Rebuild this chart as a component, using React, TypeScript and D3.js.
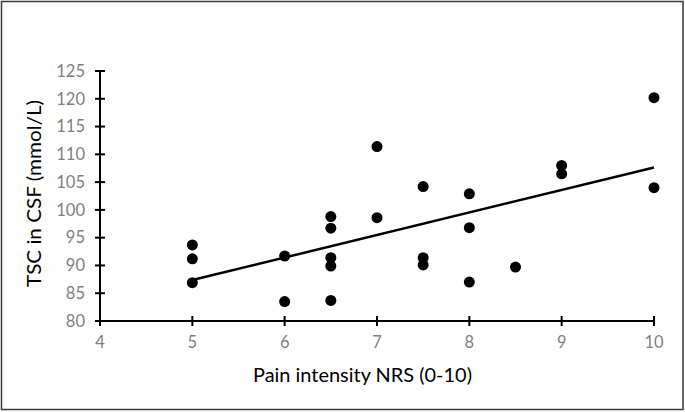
import React from "react";
import * as d3 from "d3";

const painNRS = [5, 5, 5, 6, 6, 6.5, 6.5, 6.5, 6.5, 6.5, 7, 7, 7.5, 7.5, 7.5, 8, 8, 8, 8.5, 9, 9, 10, 10];
const tscCSF = [93.7, 91.2, 86.9, 91.7, 83.5, 98.8, 96.7, 91.4, 89.9, 83.7, 111.4, 98.6, 104.2, 91.4, 90.1, 102.9, 96.8, 87.0, 89.7, 108.0, 106.5, 120.2, 104.0];
const xTicks = [4, 5, 6, 7, 8, 9, 10];
const yTicks = [80, 85, 90, 95, 100, 105, 110, 115, 120, 125];

const W = 685;
const H = 412;
const FONT = "Lato, 'Open Sans', sans-serif";

export default function App() {
  const x = d3.scaleLinear().domain([4, 10]).range([100, 654]);
  const y = d3.scaleLinear().domain([80, 125]).range([321, 71]);

  const mx = d3.mean(painNRS)!;
  const my = d3.mean(tscCSF)!;
  let sxy = 0, sxx = 0;
  painNRS.forEach((v, i) => {
    sxy += (v - mx) * (tscCSF[i] - my);
    sxx += (v - mx) * (v - mx);
  });
  const slope = sxy / sxx;
  const icpt = my - slope * mx;
  const x0 = d3.min(painNRS)!;
  const x1 = d3.max(painNRS)!;
  const line = d3.line<number>().x((d) => x(d)).y((d) => y(icpt + slope * d));

  return (
    <div style={{ position: "absolute", left: 0, top: 0 }}>
      <svg width={W} height={H} style={{ display: "block" }}>
        <rect x={0} y={0} width={W} height={H} fill="#fff" />
        <rect x={1.5} y={1.5} width={681.5} height={408} fill="none" stroke="#3a3a3a" strokeWidth={1.5} />
        {yTicks.map((t) => (
          <g key={"y" + t}>
            <line x1={x(4) - 5} x2={x(4) + 5} y1={y(t)} y2={y(t)} stroke="#000" strokeWidth={2} />
            <text x={85} y={y(t)} dy="0.35em" textAnchor="end" fontFamily={FONT} fontSize={16.5} fill="#7f7f7f">
              {t}
            </text>
          </g>
        ))}
        {xTicks.map((t) => (
          <g key={"x" + t}>
            <line x1={x(t)} x2={x(t)} y1={y(80) - 5} y2={y(80) + 5} stroke="#000" strokeWidth={2} />
            <text x={x(t)} y={348} textAnchor="middle" fontFamily={FONT} fontSize={16.5} fill="#7f7f7f">
              {t}
            </text>
          </g>
        ))}
        {/* axes */}
        <line x1={x(4)} x2={x(10)} y1={y(80)} y2={y(80)} stroke="#000" strokeWidth={2} />
        <line x1={x(4)} x2={x(4)} y1={y(80)} y2={y(125)} stroke="#000" strokeWidth={2} />
        <path d={line([x0, x1]) || ""} fill="none" stroke="#000" strokeWidth={2.5} />
        {painNRS.map((v, i) => (
          <circle key={i} cx={x(v)} cy={y(tscCSF[i])} r={5.5} fill="#000" />
        ))}
        <text x={362.5} y={382} textAnchor="middle" fontFamily={FONT} fontSize={19.5} fill="#000" textLength={219} lengthAdjust="spacingAndGlyphs">
          Pain intensity NRS (0-10)
        </text>
        <text
          transform={`translate(41,193.5) rotate(-90)`}
          textAnchor="middle"
          fontFamily={FONT}
          fontSize={18.5}
          fill="#000"
          textLength={187}
          lengthAdjust="spacingAndGlyphs"
        >
          TSC in CSF (mmol/L)
        </text>
      </svg>
    </div>
  );
}
